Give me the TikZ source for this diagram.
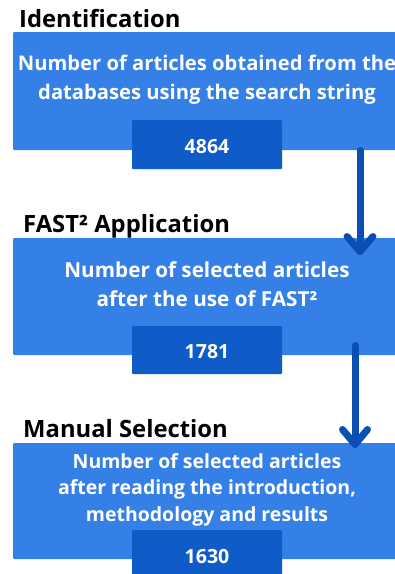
\documentclass[tikz,border=0pt]{standalone}
\usepackage{fontspec}
\setmainfont{Open Sans}[BoldFont={* Bold}]
\definecolor{panel}{HTML}{3580E7}
\definecolor{countbox}{HTML}{0F5CC8}
\definecolor{flow}{HTML}{0B4FB3}
\tikzset{
  panel/.style={fill=panel, rounded corners=1.2pt},
  countbox/.style={fill=countbox, rounded corners=1pt},
  heading/.style={anchor=base west, inner sep=0pt, text=black,
    font=\bfseries\fontsize{23.8}{28}\selectfont},
  body/.style={anchor=base, inner sep=0pt, text=white, align=center},
  count/.style={anchor=base, inner sep=0pt, text=white,
    font=\bfseries\fontsize{19.5}{22}\selectfont},
  flowline/.style={draw=flow, line width=7pt, line cap=round, line join=round},
}
\begin{document}
\begin{tikzpicture}[x=1pt,y=-1pt]
\useasboundingbox (0,0) rectangle (395,574);

% Stage 1
\node[heading] (h1) at (19,27) {Identification};
\path[panel] (13,32) rectangle (402,150);
\path[countbox] (132,120) rectangle (282,169);
\node[body, font=\bfseries\fontsize{20.2}{28.5}\selectfont] (t1) at (207,99)
  {Number of articles obtained from the\\databases using the search string};
\node[count] (c1) at (207,153) {4864};

% Stage 2
\node[heading] (h2) at (23,232) {FAST² Application};
\path[panel] (13,238) rectangle (402,355);
\path[countbox] (132,326) rectangle (282,374);
\node[body, font=\bfseries\fontsize{20.7}{29}\selectfont] (t2) at (207,306)
  {Number of selected articles\\after the use of FAST²};
\node[count] (c2) at (207,358) {1781};

% Stage 3
\node[heading] (h3) at (23,437) {Manual Selection};
\path[panel] (13,443) rectangle (402,559);
\path[countbox] (132,530) rectangle (282,580);
\node[body, font=\bfseries\fontsize{19.5}{26.5}\selectfont] (t3) at (207,521)
  {Number of selected articles\\after reading the introduction,\\methodology and results};
\node[count] (c3) at (207,563) {1630};

% Flow arrows between stages (canvas y points up, so wings use positive yshift)
\coordinate (a1s) at (360,150.5);
\coordinate (a1e) at (360,251.5);
\draw[flowline] (a1s) -- (a1e);
\draw[flowline] ([xshift=-13pt,yshift=15pt]a1e) -- (a1e) -- ([xshift=13pt,yshift=15pt]a1e);

\coordinate (a2s) at (355,345.5);
\coordinate (a2e) at (355,444.5);
\draw[flowline] (a2s) -- (a2e);
\draw[flowline] ([xshift=-12.5pt,yshift=15pt]a2e) -- (a2e) -- ([xshift=12.5pt,yshift=15pt]a2e);
\end{tikzpicture}
\end{document}
